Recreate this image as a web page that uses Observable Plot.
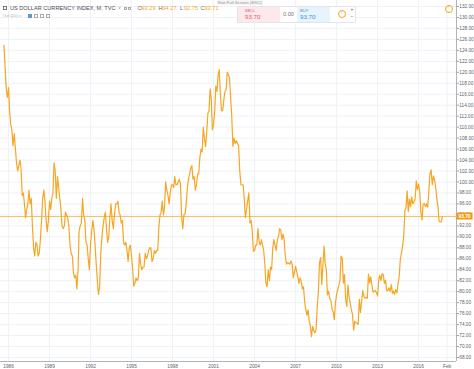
<!DOCTYPE html>
<html><head><meta charset="utf-8">
<script src="https://cdn.jsdelivr.net/npm/d3@7"></script>
<script src="https://cdn.jsdelivr.net/npm/@observablehq/plot@0.6"></script>
<style>
body{margin:0;background:#fff;font-family:"Liberation Sans",Arial,sans-serif;}
#wrap{position:relative;width:474px;height:369px;overflow:hidden;}
.t{position:absolute;white-space:nowrap;line-height:1;}
</style></head><body><div id="wrap"></div>
<script>
// Monthly closes, starting September 1985
const startYear = 1985, startMonth = 8; // September (0-based)
const values1980s = [
  124.9, 121, 117, 115.4,                                   // 1985 Sep-Dec
  117.2, 112.5, 110.5, 109.4, 106.6, 108.8, 106.3, 103.5, 102, 103, 104, 102.5, // 1986
  97.5, 98, 96, 93.5, 95, 96, 98.5, 96, 97, 92, 88, 86.5,    // 1987
  89, 88.5, 86.5, 87, 89.5, 93, 97, 98.5, 96.5, 93, 91, 93,  // 1988
  96.5, 95, 97, 98, 103.5, 102, 97, 101, 99, 97, 95, 92      // 1989
];
const values1990s = [
  91.5, 92, 94.5, 94, 93.5, 92, 88.5, 87, 86.5, 83.5, 82.5, 83,
  80.5, 84, 91, 92, 92.5, 97, 94, 93, 89, 88.5, 86, 84,
  88.5, 91, 93, 91.5, 88.5, 85, 82, 79.5, 81, 87, 90, 92,
  93.5, 94.5, 91.5, 89, 90, 93.5, 96, 93, 91.5, 94, 96, 96,
  96.5, 94.5, 94, 92.5, 93, 89, 88.5, 89, 87.5, 85.5, 88, 88.5,
  86.5, 84, 81, 81.5, 82.5, 82, 82.5, 87, 85, 84, 84.5, 84.5,
  87, 86, 86.5, 87.5, 88, 88, 85.5, 86, 87.5, 87, 87.5, 87.5,
  92, 94, 94.5, 96.5, 94, 95.5, 100, 98.5, 97.5, 96, 98, 99.5,
  99.5, 99, 101, 99.5, 99.5, 100, 100.5, 99.5, 93.5, 91.5, 94, 94.2,
  96, 99, 100.5, 101.5, 102.5, 103, 100.5, 101, 98.5, 99.5, 101.5, 101.5
];
const values2000s = [
  104.5, 106, 105.5, 110, 108, 106.5, 109, 112.5, 113, 117, 115, 109.5,
  110.5, 113, 117.5, 116.5, 119.5, 120.5, 116, 113, 113, 115, 116.5, 116.8,
  120, 119.5, 119, 115.5, 112, 106.5, 108, 107, 107.5, 107, 106.5, 102,
  99.5, 99.5, 99.5, 97, 93.5, 95, 96.5, 98, 92.5, 93, 91, 87.4,
  87.5, 88.5, 88.5, 91.5, 89, 88.5, 89.5, 88.5, 87.5, 85, 81.5, 80.9,
  84, 82, 84.5, 84, 88, 89.5, 88.5, 87.5, 89.5, 90, 91.5, 91.2,
  89.5, 90.5, 89.5, 86.5, 85, 85.3, 85.2, 85, 85.6, 85, 82.5, 83.6,
  84.6, 83.6, 82.8, 81.5, 82.5, 81.9, 80.5, 80.9, 78.1, 76.8, 75.7, 76.7,
  74.6, 73.8, 71.8, 73.7, 72.9, 72.5, 73.1, 77.2, 80, 85.3, 86.2, 81.3,
  84.8, 88.3, 85.2, 84.1, 79.4, 80.1, 78.8, 78.4, 76.8, 76.4, 74.9, 77.9
];
const values2010s = [
  79.5, 80.4, 81.1, 82.1, 86.5, 86.1, 81.6, 83.1, 78.6, 77.3, 81.2, 79,
  77.9, 76.6, 75.9, 73, 74.6, 74.3, 74.3, 74, 78.6, 76.2, 78.3, 80.2,
  79.1, 78.8, 79, 78.8, 83.2, 81.6, 82.7, 81.2, 79.9, 80.1, 80.2, 79.8,
  79.2, 82.2, 83, 82, 83.3, 83.1, 81.5, 82.1, 80.2, 80.2, 80.7, 80,
  81.3, 79.7, 80.1, 79.5, 80.4, 79.8, 81.5, 82.8, 86, 87, 88.4, 90.3,
  94.8, 95.3, 98.4, 94.6, 96.9, 95.5, 97.3, 96, 96.4, 97, 100.2, 98.6,
  99.6, 98.2, 94.6, 93.1, 95.9, 96.1, 95.5, 96, 95.4, 98.4, 101.5, 102.2,
  99.5, 101.1, 100.4, 99.1, 97, 95.6, 92.9, 92.7, 92.8, 93.71
];
const yTickValues = d3.range(68, 133, 2);
const xTickYears = [1986, 1989, 1992, 1995, 1998, 2001, 2004, 2007, 2010, 2013, 2016];
const lastTickLabel = "Feb";
const lastTickDate = [2018, 1];
const lastPrice = 93.70;
const header = {name: "US DOLLAR CURRENCY INDEX, M, TVC", o: "93.29", h: "94.27", l: "92.75", c: "93.71"};

const allValues = [...values1980s, ...values1990s, ...values2000s, ...values2010s];
const data = allValues.map((v, i) => ({date: new Date(Date.UTC(startYear, startMonth + i, 1)), value: v}));
const xTicks = [...xTickYears.map(y => new Date(Date.UTC(y, 0, 1))), new Date(Date.UTC(lastTickDate[0], lastTickDate[1], 1))];

const orange = "#f6a623";
const xDomain = [new Date(Date.UTC(1985, 4, 31)), new Date(Date.UTC(2018, 9, 10))];
const yDomain = [67.27, 133.09];

const priceLabel = (index, scales, values, dims) => {
  const y = scales.y(lastPrice);
  const g = d3.create("svg:g");
  g.append("rect").attr("x", dims.width - dims.marginRight + 0.5).attr("y", y - 3.5)
    .attr("width", 16).attr("height", 7).attr("fill", "#f39c12");
  g.append("text").attr("x", dims.width - dims.marginRight + 8.5).attr("y", y)
    .attr("dy", "0.35em").attr("text-anchor", "middle").attr("fill", "#fff")
    .attr("font-size", "4.8px").attr("font-weight", "bold").text(lastPrice.toFixed(2));
  return g.node();
};

const chart = Plot.plot({
  width: 474, height: 369,
  marginLeft: 0, marginRight: 18, marginTop: 0, marginBottom: 8,
  style: {background: "#fff", fontFamily: "Liberation Sans, Arial, sans-serif", fontSize: "4.7px", color: "#5d6169"},
  x: {type: "utc", domain: xDomain, label: null},
  y: {domain: yDomain, label: null},
  marks: [
    Plot.gridY(yTickValues, {stroke: "#eef1f6", strokeOpacity: 1}),
    Plot.gridX(xTicks, {stroke: "#eef1f6", strokeOpacity: 1}),
    Plot.ruleY([lastPrice], {stroke: orange, strokeWidth: 0.8, strokeOpacity: 0.9}),
    Plot.line(data, {x: "date", y: "value", stroke: orange, strokeWidth: 1.2}),
    Plot.ruleX([xDomain[1]], {stroke: "#9aa0a8", strokeWidth: 0.8}),
    Plot.ruleY([yDomain[0]], {stroke: "#9aa0a8", strokeWidth: 0.8}),
    Plot.axisY(yTickValues, {anchor: "right", label: null, tickSize: 2, tickPadding: 0.8, stroke: "#9aa0a8",
      tickFormat: d => d.toFixed(2), fill: "#5d6169", fontSize: 4.7}),
    Plot.axisX(xTicks, {anchor: "bottom", label: null, tickSize: 0, tickPadding: 3, fill: "#5d6169", fontSize: 4.8,
      tickFormat: d => d.getUTCMonth() === 0 ? String(d.getUTCFullYear()) : lastTickLabel}),
    priceLabel
  ]
});
const wrap = document.getElementById("wrap");
wrap.appendChild(chart);

function addText(txt, x, y, css) {
  const d = document.createElement("div");
  d.className = "t"; d.textContent = txt;
  d.style.left = x + "px"; d.style.top = y + "px";
  Object.assign(d.style, css || {});
  wrap.appendChild(d);
  return d;
}
function addBox(x, y, w, h, css) {
  const d = document.createElement("div");
  d.style.position = "absolute"; d.style.left = x + "px"; d.style.top = y + "px";
  d.style.width = w + "px"; d.style.height = h + "px";
  Object.assign(d.style, css || {});
  wrap.appendChild(d);
  return d;
}
// header line 1
addBox(3, 6, 4, 4, {border: "0.6px solid #777", boxSizing: "border-box"});
addText(header.name, 10, 5.5, {fontSize: "5.6px", color: "#4a4e56"});
addText("\u02c5", 118, 5.5, {fontSize: "5px", color: "#888"});
addBox(124, 6.5, 3, 3, {border: "0.6px solid #aaa", boxSizing: "border-box"});
addBox(128, 6.5, 3, 3, {border: "0.6px solid #aaa", boxSizing: "border-box"});
const ohlc = [["O", header.o, 137.5], ["H", header.h, 158.5], ["L", header.l, 180], ["C", header.c, 200.5]];
ohlc.forEach(([k, v, x]) => {
  addText(k, x, 5.5, {fontSize: "5.6px", color: "#6a6e76"});
  addText(v, x + 4, 5.5, {fontSize: "5.6px", color: "#f5a623"});
});
// header line 2
addText("Vol (20) \u02c5", 3, 14, {fontSize: "4.3px", color: "#b0b4bb"});
addBox(28, 14, 4, 4, {background: "#5b9bd5", border: "0.5px solid #5b9bd5", boxSizing: "border-box"});
addBox(34, 14, 4, 4, {border: "0.6px solid #aaa", boxSizing: "border-box"});
addBox(40, 14, 4, 4, {border: "0.6px solid #aaa", boxSizing: "border-box"});
addBox(46, 14, 4, 4, {border: "0.6px solid #aaa", boxSizing: "border-box"});
// exit full screen
addText("Exit Full Screen (ESC)", 217, 0, {fontSize: "4.4px", color: "#999", background: "#f4f4f4", padding: "0.5px 1px"});
// trading widget
addBox(237, 6, 119, 17, {background: "#fff", border: "0.6px solid #e2e4e8", boxSizing: "border-box", borderRadius: "1px"});
addBox(238, 7, 42, 15, {background: "#fde8ec"});
addText("SELL", 245, 8.5, {fontSize: "4.1px", color: "#e8536b"});
addText("93.70", 245, 13.5, {fontSize: "6.2px", color: "#e8536b"});
addText("0.00", 283, 12, {fontSize: "5.6px", color: "#777"});
addBox(297, 7, 33, 15, {background: "#e7f4fd"});
addText("BUY", 300, 8.5, {fontSize: "4.1px", color: "#3d8fd8"});
addText("93.70", 300, 13.5, {fontSize: "6.2px", color: "#3d8fd8"});
addBox(338, 10, 8, 8, {border: "0.8px solid #f5a623", borderRadius: "50%", boxSizing: "border-box"});
addText("!", 341, 11.3, {fontSize: "4.6px", color: "#f5a623"});
addText("+", 350.5, 6.5, {fontSize: "5px", color: "#666"});
addText("\u2013", 350.5, 13.5, {fontSize: "5px", color: "#666"});
// top-right icon
addBox(445, 5, 8, 8, {border: "0.8px solid #f5a623", borderRadius: "50%", boxSizing: "border-box"});
addText("!", 448, 6.3, {fontSize: "4.6px", color: "#f5a623"});
</script></body></html>
